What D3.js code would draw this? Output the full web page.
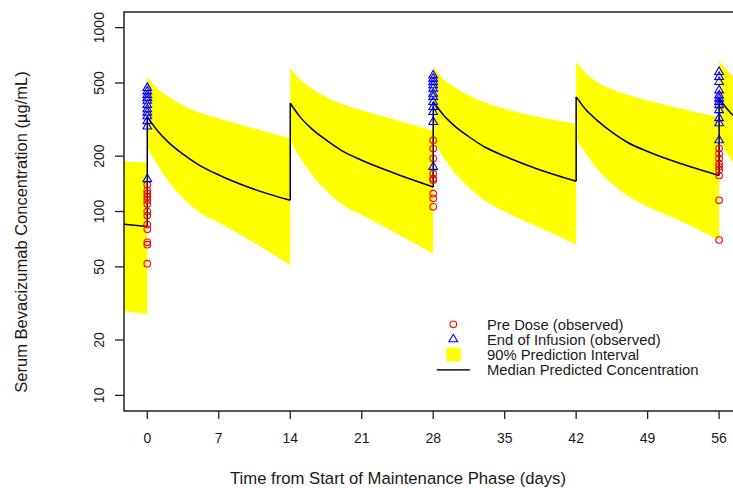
<!DOCTYPE html>
<html>
<head>
<meta charset="utf-8">
<script src="https://cdn.jsdelivr.net/npm/d3@7"></script>
<style>
  html, body { margin: 0; padding: 0; background: #fff; }
  svg { display: block; font-family: "Liberation Sans", Arial, sans-serif; }
</style>
</head>
<body>
<svg id="chart" width="733" height="488"></svg>
<script>
// ---------------- data ----------------
const xTicks = [0, 7, 14, 21, 28, 35, 42, 49, 56];
const yTicks = [10, 20, 50, 100, 200, 500, 1000];

// model prediction time grid (days); repeated times mark a dose (jump)
const predDays = [-3, 0,
  0, 1, 2, 3.5, 5, 7, 10, 14,
  14, 15, 16, 17.5, 19, 21, 24, 28,
  28, 29, 30, 31.5, 33, 35, 38, 42,
  42, 43, 44, 45.5, 47, 49, 52, 56,
  56, 57, 58, 59.5];
const medianConc = [86, 83,
  327, 275, 240, 205, 180, 158, 135, 115,
  388, 325, 285, 245, 215, 190, 163, 136,
  395, 335, 295, 255, 225, 200, 172, 146,
  420, 355, 315, 270, 238, 212, 184, 157,
  410, 350, 310, 265];
const upperPI = [188, 185,
  543, 467, 424, 378, 347, 321, 287, 250,
  603, 520, 470, 420, 385, 355, 318, 276,
  610, 525, 478, 428, 393, 362, 330, 300,
  650, 560, 508, 462, 432, 402, 366, 326,
  660, 570, 520, 465];
const lowerPI = [29.2, 27.6,
  223, 179, 148, 118, 100, 87, 70, 51,
  244, 195, 162, 130, 110, 96, 78, 59,
  245, 198, 165, 135, 115, 100, 84, 66,
  250, 205, 172, 142, 122, 106, 90, 70,
  250, 198, 168, 142];

// observed concentrations
const preDoseDay0  = [140, 130, 125, 120, 115, 110, 100, 95, 85, 80, 68, 66, 52];
const preDoseDay28 = [244, 220, 194, 161, 151, 148, 125, 118, 106];
const preDoseDay56 = [220, 206, 194, 182, 175, 168, 157, 115, 70];
const eoiDay0  = [470, 450, 430, 415, 400, 380, 360, 345, 330, 310, 290, 150];
const eoiDay28 = [550, 528, 506, 486, 466, 437, 420, 394, 370, 348, 307, 175];
const eoiDay56 = [574, 539, 506, 456, 428, 411, 394, 379, 356, 322, 302, 244];

const legendLabels = ["Pre Dose (observed)", "End of Infusion (observed)",
  "90% Prediction Interval", "Median Predicted Concentration"];

// ---------------- layout ----------------
const plot = { left: 124, top: 12, bottom: 411, right: 752.6 };
const svg = d3.select("#chart");

const x = d3.scaleLinear().domain([-2.28, 59.28]).range([plot.left, plot.right]);
const y = d3.scaleLog().domain([Math.pow(10, 0.915), Math.pow(10, 3.085)]).range([plot.bottom, plot.top]);

// build prediction rows, split into dosing segments
const rows = predDays.map((d, i) => ({ t: d, med: medianConc[i], lo: lowerPI[i], hi: upperPI[i] }));
const segments = [];
let cur = [];
rows.forEach((r, i) => {
  if (i > 0 && r.t === rows[i - 1].t) { segments.push(cur); cur = []; }
  cur.push(r);
});
segments.push(cur);

svg.append("defs").append("clipPath").attr("id", "clip")
  .append("rect").attr("x", plot.left).attr("y", plot.top)
  .attr("width", plot.right - plot.left).attr("height", plot.bottom - plot.top);

const g = svg.append("g").attr("clip-path", "url(#clip)");

const area = d3.area().curve(d3.curveMonotoneX)
  .x(d => x(d.t)).y0(d => y(d.lo)).y1(d => y(d.hi));
segments.forEach(seg => {
  g.append("path").attr("d", area(seg)).attr("fill", "#ffff00").attr("stroke", "none");
});

const line = d3.line().curve(d3.curveMonotoneX).x(d => x(d.t)).y(d => y(d.med));
segments.forEach((seg, i) => {
  g.append("path").attr("d", line(seg)).attr("fill", "none")
    .attr("stroke", "#000").attr("stroke-width", 1.5);
  if (i > 0) {
    const a = segments[i - 1][segments[i - 1].length - 1];
    const b = seg[0];
    g.append("line").attr("x1", x(a.t)).attr("x2", x(b.t))
      .attr("y1", y(a.med)).attr("y2", y(b.med))
      .attr("stroke", "#000").attr("stroke-width", 1.5);
  }
});

// observations
const preDose = [].concat(
  preDoseDay0.map(v => ({ t: 0, v })),
  preDoseDay28.map(v => ({ t: 28, v })),
  preDoseDay56.map(v => ({ t: 56, v })));
const eoi = [].concat(
  eoiDay0.map(v => ({ t: 0, v })),
  eoiDay28.map(v => ({ t: 28, v })),
  eoiDay56.map(v => ({ t: 56, v })));

g.selectAll("circle.pre").data(preDose).enter().append("circle")
  .attr("class", "pre")
  .attr("cx", d => x(d.t)).attr("cy", d => y(d.v)).attr("r", 3.3)
  .attr("fill", "none").attr("stroke", "#ff0000").attr("stroke-width", 1.1);

const tri = d3.symbol().type(d3.symbolTriangle).size(33);
g.selectAll("path.eoi").data(eoi).enter().append("path")
  .attr("class", "eoi").attr("d", tri)
  .attr("transform", d => `translate(${x(d.t)},${y(d.v)})`)
  .attr("fill", "none").attr("stroke", "#0000ff").attr("stroke-width", 1.1);

// ---------------- frame & axes ----------------
const axisColor = "#222";
svg.append("path")
  .attr("d", `M${plot.right + 5},${plot.top}H${plot.left}V${plot.bottom}H${plot.right + 5}`)
  .attr("fill", "none").attr("stroke", axisColor).attr("stroke-width", 1.5);

const xAxis = svg.append("g").attr("transform", `translate(0,${plot.bottom})`);
xAxis.selectAll("line").data(xTicks).enter().append("line")
  .attr("x1", d => x(d)).attr("x2", d => x(d)).attr("y1", 0).attr("y2", 8)
  .attr("stroke", axisColor).attr("stroke-width", 1.3);
xAxis.selectAll("text").data(xTicks).enter().append("text")
  .attr("x", d => x(d)).attr("y", 32).attr("text-anchor", "middle")
  .attr("font-size", 14).attr("fill", "#1a1a1a").text(d => d);

const yAxis = svg.append("g").attr("transform", `translate(${plot.left},0)`);
yAxis.selectAll("line").data(yTicks).enter().append("line")
  .attr("x1", -9).attr("x2", 0).attr("y1", d => y(d)).attr("y2", d => y(d))
  .attr("stroke", axisColor).attr("stroke-width", 1.3);
yAxis.selectAll("text").data(yTicks).enter().append("text")
  .attr("transform", d => `translate(-20,${y(d)}) rotate(-90)`)
  .attr("text-anchor", "middle").attr("font-size", 14).attr("fill", "#1a1a1a")
  .text(d => d);

svg.append("text").attr("x", 398).attr("y", 484).attr("text-anchor", "middle")
  .attr("font-size", 16.7).attr("fill", "#1a1a1a")
  .text("Time from Start of Maintenance Phase (days)");
svg.append("text").attr("transform", "translate(27,232) rotate(-90)")
  .attr("text-anchor", "middle").attr("font-size", 16.5).attr("fill", "#1a1a1a")
  .text("Serum Bevacizumab Concentration (\u00b5g/mL)");

// ---------------- legend ----------------
const lg = svg.append("g");
const lgSymX = 453.3, lgTextX = 487, lgRow0 = 324.3, lgStep = 15;
lg.append("circle").attr("cx", lgSymX).attr("cy", lgRow0).attr("r", 3.3)
  .attr("fill", "none").attr("stroke", "#ff0000").attr("stroke-width", 1.1);
lg.append("path").attr("d", tri).attr("transform", `translate(${lgSymX},${lgRow0 + lgStep})`)
  .attr("fill", "none").attr("stroke", "#0000ff").attr("stroke-width", 1.1);
lg.append("rect").attr("x", lgSymX - 7).attr("y", lgRow0 + 2 * lgStep - 6.5)
  .attr("width", 14.5).attr("height", 13.5).attr("fill", "#ffff00");
lg.append("line").attr("x1", lgSymX - 16.5).attr("x2", lgSymX + 16.5)
  .attr("y1", lgRow0 + 3 * lgStep + 0.5).attr("y2", lgRow0 + 3 * lgStep + 0.5)
  .attr("stroke", "#333").attr("stroke-width", 1.8);
lg.selectAll("text").data(legendLabels).enter().append("text")
  .attr("x", lgTextX).attr("y", (d, i) => lgRow0 + 5.5 + i * lgStep)
  .attr("font-size", 14.8).attr("fill", "#1a1a1a").text(d => d);
</script>
</body>
</html>
